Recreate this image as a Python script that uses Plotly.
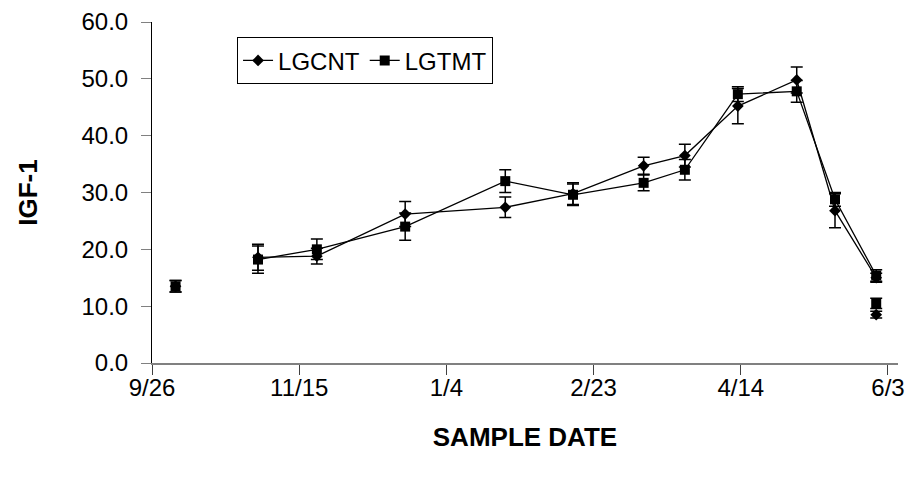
import plotly.graph_objects as go

# Sample dates (one season); None values break the line into separate segments
sample_dates = [
    "2002-10-04", "2002-10-18", "2002-11-01", "2002-11-21", "2002-12-21",
    "2003-01-24", "2003-02-16", "2003-03-12", "2003-03-26", "2003-04-13",
    "2003-05-03", "2003-05-16", "2003-05-30", "2003-05-30", "2003-05-30",
]

lgcnt_values = [13.5, None, 18.6, 18.8, 26.2, 27.4, 29.8, 34.7, 36.5, 45.2, 49.8, 26.8, 15.0, None, 8.5]
lgcnt_errors = [1.0, None, 2.3, 1.4, 2.2, 1.8, 1.9, 1.5, 2.0, 3.1, 2.3, 3.0, 0.8, None, 0.6]

lgtmt_values = [13.5, None, 18.2, 20.0, 24.0, 32.0, 29.6, 31.7, 34.0, 47.3, 47.8, 28.8, 15.4, None, 10.5]
lgtmt_errors = [1.0, None, 2.4, 1.8, 2.4, 2.0, 1.9, 1.4, 1.8, 1.3, 1.9, 1.2, 1.0, None, 0.9]

tick_dates = ["2002-09-26", "2002-11-15", "2003-01-04", "2003-02-23", "2003-04-14", "2003-06-03"]
tick_labels = ["9/26", "11/15", "1/4", "2/23", "4/14", "6/3"]
y_ticks = [0, 10, 20, 30, 40, 50, 60]

FONT = "Liberation Sans, Arial, sans-serif"


def series(name, values, errors, symbol, size):
    return go.Scatter(
        x=sample_dates,
        y=values,
        name=name,
        mode="lines+markers",
        connectgaps=False,
        line=dict(color="black", width=1.3),
        marker=dict(symbol=symbol, size=size, color="black"),
        error_y=dict(type="data", array=errors, visible=True,
                     color="black", thickness=1.5, width=6),
    )


fig = go.Figure()
fig.add_trace(series("LGCNT", lgcnt_values, lgcnt_errors, "diamond", 9))
fig.add_trace(series("LGTMT", lgtmt_values, lgtmt_errors, "square", 10))

fig.update_layout(
    width=919,
    height=484,
    margin=dict(l=152, r=21, t=22, b=121),
    paper_bgcolor="white",
    plot_bgcolor="white",
    font=dict(family=FONT, size=24, color="black"),
    showlegend=True,
    legend=dict(
        orientation="h",
        x=0.114, xanchor="left",
        y=0.955, yanchor="top",
        bordercolor="black", borderwidth=1,
        bgcolor="white",
        font=dict(family=FONT, size=24),
        itemwidth=30,
        tracegroupgap=0,
    ),
    xaxis=dict(
        type="date",
        automargin=False,
        range=["2002-09-26", "2003-06-06 09:36"],
        tickvals=tick_dates,
        ticktext=tick_labels,
        showgrid=False,
        zeroline=False,
        showline=True,
        linecolor="#808080",
        linewidth=2,
        ticks="outside",
        ticklen=10,
        tickcolor="#404040",
        tickwidth=1,
        ticklabelstandoff=-8,
        tickfont=dict(family=FONT, size=24),
        title=dict(text="<b>SAMPLE DATE</b>", font=dict(family=FONT, size=26), standoff=28),
    ),
    yaxis=dict(
        automargin=False,
        range=[0, 60],
        tickvals=y_ticks,
        tickformat=".1f",
        showgrid=False,
        zeroline=False,
        showline=True,
        linecolor="black",
        linewidth=1,
        ticks="outside",
        ticklen=10,
        tickcolor="#808080",
        tickwidth=1,
        ticklabelstandoff=8,
        tickfont=dict(family=FONT, size=24),
        title=dict(text="<b>IGF-1</b>", font=dict(family=FONT, size=26), standoff=36),
    ),
)

fig.write_html("out.html")
